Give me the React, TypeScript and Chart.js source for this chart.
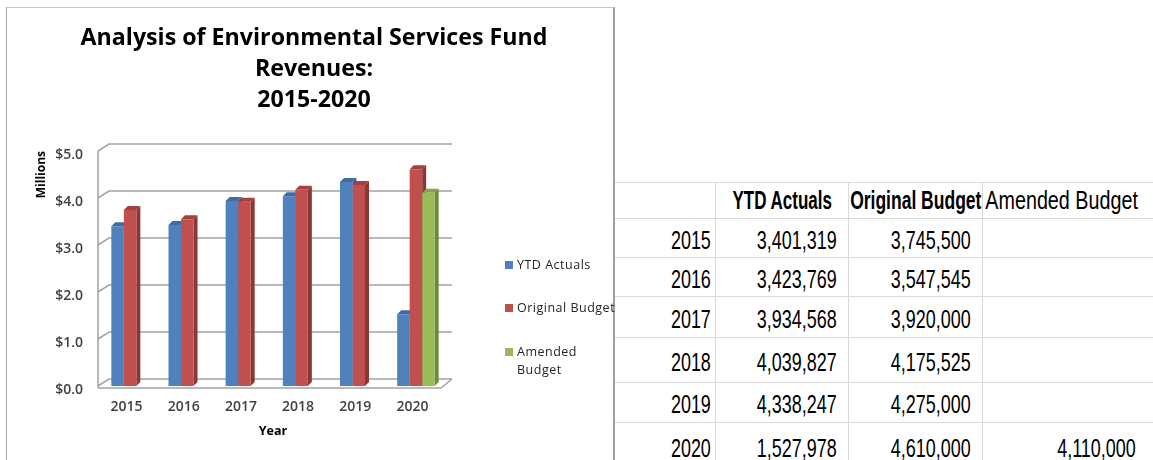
import React, { useEffect, useRef } from 'react';
import { Chart, registerables } from 'chart.js';

Chart.register(...registerables);

// ---------- data ----------
const years = ['2015', '2016', '2017', '2018', '2019', '2020'];
const ytdActuals = [3401319, 3423769, 3934568, 4039827, 4338247, 1527978];
const originalBudget = [3745500, 3547545, 3920000, 4175525, 4275000, 4610000];
const amendedBudget: (number | null)[] = [null, null, null, null, null, 4110000];
const seriesNames = ['YTD Actuals', 'Original Budget', 'Amended Budget'];
const legendLines = [['YTD Actuals'], ['Original Budget'], ['Amended', 'Budget']];
const yTickValues = [0, 1000000, 2000000, 3000000, 4000000, 5000000];
const titleLines = ['Analysis of Environmental Services Fund', 'Revenues:', '2015-2020'];
const xAxisTitle = 'Year';
const yAxisTitle = 'Millions';

// ---------- styles ----------
const FONT = "'Open Sans', Lato, 'Liberation Sans', sans-serif";
const TABLE_FONT = "'Liberation Sans', Arial, sans-serif";
const frontColors = ['#4F81BD', '#C0504D', '#9BBB59'];
const sideColors = ['#345A88', '#8A3735', '#6E8A3B'];
const topColors = ['#3F6CA3', '#A5403D', '#86A34B'];

const CANVAS_W = 628;
const CANVAS_H = 460;

const depthPlugin = {
  id: 'depth3d',
  beforeDatasetsDraw(chart: any) {
    const { ctx, chartArea, scales } = chart;
    const ys = scales.y;
    const shift = 3.5;
    const fl = chartArea.left - shift;
    const fr = chartArea.right - shift;
    const DX = 11;
    const DY = 7;
    const y0 = ys.getPixelForValue(0);
    ctx.save();
    ctx.strokeStyle = '#a3a3a3';
    ctx.lineWidth = 1.5;
    ctx.beginPath();
    for (const v of yTickValues) {
      const y = ys.getPixelForValue(v);
      ctx.moveTo(fl, y);
      ctx.lineTo(fl + DX, y - DY);
      ctx.lineTo(fr + DX, y - DY);
    }
    ctx.moveTo(fl, y0 + 2);
    ctx.lineTo(fl, ys.getPixelForValue(5000000));
    ctx.moveTo(fl, y0 + 2);
    ctx.lineTo(fr, y0 + 2);
    ctx.lineTo(fr + DX, y0 - DY);
    ctx.stroke();

    const dxb = 4;
    const dyb = 4;
    chart.data.datasets.forEach((ds: any, di: number) => {
      const meta = chart.getDatasetMeta(di);
      meta.data.forEach((el: any, i: number) => {
        if (ds.data[i] == null) return;
        const { x, y, base, width } = el.getProps(['x', 'y', 'base', 'width'], true);
        const l = x - width / 2;
        const r = x + width / 2;
        ctx.fillStyle = sideColors[di];
        ctx.beginPath();
        ctx.moveTo(r, y);
        ctx.lineTo(r + dxb, y - dyb);
        ctx.lineTo(r + dxb, base - dyb);
        ctx.lineTo(r, base);
        ctx.closePath();
        ctx.fill();
        ctx.fillStyle = topColors[di];
        ctx.beginPath();
        ctx.moveTo(l, y);
        ctx.lineTo(l + dxb, y - dyb);
        ctx.lineTo(r + dxb, y - dyb);
        ctx.lineTo(r, y);
        ctx.closePath();
        ctx.fill();
      });
    });
    ctx.restore();
  },
};

function fmt(n: number | null) {
  return n == null ? '' : n.toLocaleString('en-US');
}

const colX = [615, 715, 848, 982, 1153];
const rowY = [182, 218, 257, 296, 337, 382, 422, 470];

export default function App() {
  const ref = useRef<HTMLCanvasElement>(null);

  useEffect(() => {
    if (!ref.current) return;
    const chart = new Chart(ref.current, {
      type: 'bar',
      data: {
        labels: years,
        datasets: [
          { label: seriesNames[0], data: ytdActuals, backgroundColor: frontColors[0], yAxisID: 'y' },
          { label: seriesNames[1], data: originalBudget, backgroundColor: frontColors[1], yAxisID: 'y' },
          { label: seriesNames[2], data: amendedBudget as any, backgroundColor: frontColors[2], yAxisID: 'y' },
        ],
      },
      options: {
        animation: false,
        responsive: false,
        maintainAspectRatio: false,
        layout: { padding: { left: 0, right: 0, top: 0, bottom: 26 } },
        datasets: { bar: { categoryPercentage: 0.656, barPercentage: 1, borderWidth: 0 } } as any,
        plugins: {
          legend: { display: false },
          tooltip: { enabled: false },
          title: {
            display: true,
            text: titleLines,
            color: '#000',
            font: { family: FONT, size: 23.2, weight: 'bold', lineHeight: 31 / 23.2 },
            padding: { top: 22.5, bottom: 35.5 },
          },
        },
        scales: {
          x: {
            grid: { display: false, drawTicks: false },
            border: { display: false },
            ticks: {
              padding: 12.6,
              labelOffset: -3.5,
              color: '#404040',
              font: { family: FONT, size: 14, weight: 600, lineHeight: 1.2 },
            },
            title: {
              display: true,
              text: xAxisTitle,
              color: '#000',
              font: { family: FONT, size: 12.5, weight: 'bold', lineHeight: 6 / 12.5 },
              padding: { top: 0, bottom: 0 },
            },
          },
          y: {
            type: 'linear',
            position: 'left',
            min: 0,
            max: 5000000,
            afterFit: (s: any) => {
              s.width = 101.5;
            },
            afterBuildTicks: (s: any) => {
              s.ticks = yTickValues.map((v) => ({ value: v }));
            },
            grid: { display: false, drawTicks: false },
            border: { display: false },
            ticks: {
              padding: 18.5,
              labelOffset: 4,
              color: '#404040',
              font: { family: FONT, size: 14, weight: 600 },
              callback: (v: any) => '$' + (Number(v) / 1000000).toFixed(1),
            },
            title: {
              display: true,
              text: yAxisTitle,
              align: 'end',
              color: '#000',
              font: { family: FONT, size: 12, weight: 'bold', lineHeight: 1.2 },
              padding: { top: 34.8, bottom: 0 },
            },
          },
          y2: {
            type: 'linear',
            position: 'right',
            display: true,
            grid: { display: false, drawTicks: false },
            border: { display: false },
            ticks: { display: false },
            afterFit: (s: any) => {
              s.width = CANVAS_W - 444.5;
            },
          },
        },
      } as any,
      plugins: [depthPlugin],
    });
    return () => chart.destroy();
  }, []);

  const rows = years.map((y, i) => [y, fmt(ytdActuals[i]), fmt(originalBudget[i]), fmt(amendedBudget[i])]);

  const cells: React.ReactNode[] = [];
  const headerStyles = [
    { bold: true, scale: 0.68, pr: 0 },
    { bold: true, scale: 0.7, pr: 0 },
    { bold: false, scale: 0.79, pr: 12 },
  ];
  for (let c = 0; c < 4; c++) {
    for (let r = 0; r < rowY.length - 1; r++) {
      const left = colX[c];
      const top = rowY[r];
      const w = colX[c + 1] - colX[c];
      const h = rowY[r + 1] - rowY[r];
      let text = '';
      let bold = false;
      let scale = 0.69;
      let align: 'center' | 'right' = 'right';
      let pr = 0;
      if (r === 0) {
        if (c > 0) {
          text = seriesNames[c - 1];
          bold = headerStyles[c - 1].bold;
          scale = headerStyles[c - 1].scale;
          pr = headerStyles[c - 1].pr;
          align = 'center';
        }
      } else {
        text = rows[r - 1][c];
        pr = c === 0 ? 4 : c === 3 ? 17 : 11;
      }
      cells.push(
        <div
          key={`${r}-${c}`}
          style={{
            position: 'absolute',
            left,
            top,
            width: w,
            height: h,
            boxSizing: 'border-box',
            borderTop: '1px solid #d9d9d9',
            borderLeft: c === 0 ? 'none' : '1px solid #d9d9d9',
            display: 'flex',
            alignItems: 'center',
            justifyContent: align === 'center' ? 'center' : 'flex-end',
            paddingRight: pr,
            paddingTop: r === 0 ? 0 : 3,
            overflow: 'hidden',
            whiteSpace: 'nowrap',
          }}
        >
          <span
            style={{
              display: 'inline-block',
              fontFamily: TABLE_FONT,
              fontSize: r === 0 ? 25 : 26,
              fontWeight: bold ? 'bold' : 'normal',
              color: '#000',
              transform: `scaleX(${scale})`,
              transformOrigin: align === 'center' ? 'center' : 'right',
              lineHeight: 1,
            }}
          >
            {text}
          </span>
        </div>
      );
    }
  }

  const legendTops = [256, 299, 343];

  return (
    <div
      style={{
        position: 'fixed',
        left: 0,
        top: 0,
        width: 1153,
        height: 460,
        background: '#fff',
        overflow: 'hidden',
      }}
    >
      <div
        style={{
          position: 'absolute',
          left: 6,
          top: 7,
          width: 606,
          height: 470,
          borderLeft: '1px solid #a6a6a6',
          borderTop: '1px solid #c4c4c4',
          borderRight: '2px solid #a0a0a0',
        }}
      />
      {cells}
      <canvas
        ref={ref}
        width={CANVAS_W}
        height={CANVAS_H}
        style={{ position: 'absolute', left: 0, top: 0, width: CANVAS_W, height: CANVAS_H }}
      />
      {legendLines.map((lines, i) => (
        <div key={i} style={{ position: 'absolute', left: 505, top: legendTops[i] }}>
          <div
            style={{
              position: 'absolute',
              left: 0,
              top: 5,
              width: 8,
              height: 8,
              background: frontColors[i],
            }}
          />
          <div
            style={{
              position: 'absolute',
              left: 12,
              top: 0,
              fontFamily: FONT,
              fontSize: 12.5,
              letterSpacing: '0.5px',
              lineHeight: '18px',
              color: '#262626',
              whiteSpace: 'nowrap',
            }}
          >
            {lines.map((t, j) => (
              <div key={j}>{t}</div>
            ))}
          </div>
        </div>
      ))}
    </div>
  );
}
